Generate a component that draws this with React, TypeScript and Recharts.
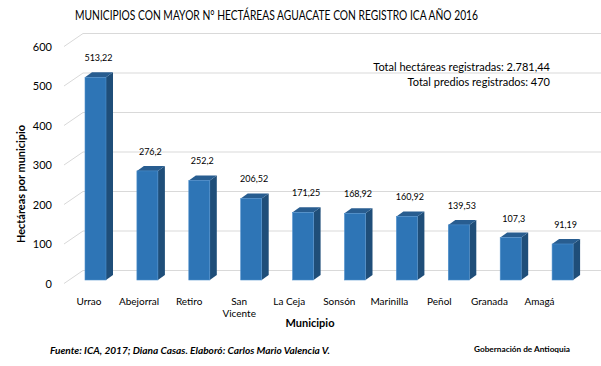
import React from 'react';
import { BarChart, Bar, XAxis, YAxis, CartesianGrid, LabelList } from 'recharts';

const municipios = ['Urrao', 'Abejorral', 'Retiro', 'San Vicente', 'La Ceja', 'Sonsón', 'Marinilla', 'Peñol', 'Granada', 'Amagá'];
const tickLabels = ['Urrao', 'Abejorral', 'Retiro', 'San\nVicente', 'La Ceja', 'Sonsón', 'Marinilla', 'Peñol', 'Granada', 'Amagá'];
const hectareas = [513.22, 276.2, 252.2, 206.52, 171.25, 168.92, 160.92, 139.53, 107.3, 91.19];
const yTicks = [0, 100, 200, 300, 400, 500, 600];

const data = municipios.map((m, i) => ({ municipio: m, label: tickLabels[i], hectareas: hectareas[i] }));

const FONT = 'Lato, "Liberation Sans", sans-serif';
const FRONT = '#2e75b6';
const SIDE = '#1f4e79';
const TOP = '#285d90';
const DX = 7;
const DY = 5;

const fmt = (v: number) => String(v).replace('.', ',');

const Bar3D = (props: any) => {
  const { x, y, width, height } = props;
  if (height == null || isNaN(height)) return null;
  return (
    <g>
      <path d={`M${x + width},${y} L${x + width + DX},${y - DY} L${x + width + DX},${y + height - DY} L${x + width},${y + height} Z`} fill={SIDE} />
      <path d={`M${x},${y} L${x + DX},${y - DY} L${x + width + DX},${y - DY} L${x + width},${y} Z`} fill={TOP} />
      <rect x={x} y={y} width={width} height={height} fill={FRONT} stroke="#4f8fcc" strokeWidth={0.6} />
    </g>
  );
};

const gridLine = (p: any) => {
  const { x1, y1, x2 } = p;
  return (
    <path
      key={p.key ?? `g${p.index}`}
      d={`M${x1 - 6},${y1 + 3.5} L${x1 + 13},${y1 - 9.5} L${x2 + 12},${y1 - 9.5}`}
      stroke="#d9d9d9"
      fill="none"
      strokeWidth={1}
    />
  );
};

const XTick = (p: any) => {
  const { x, payload } = p;
  const i = p.index ?? payload.index ?? 0;
  const lbl = tickLabels[i] ?? String(payload.value);
  const lines = lbl.split('\n');
  const cx = x - (6.95 + 1.84 * i);
  return (
    <text x={cx} y={305} textAnchor="middle" fontFamily={FONT} fontSize={10} fill="#000">
      {lines.map((l, k) => (
        <tspan key={k} x={cx} dy={k === 0 ? 0 : 12}>{l}</tspan>
      ))}
    </text>
  );
};

const YTick = (p: any) => {
  const { y, payload } = p;
  return (
    <text x={52} y={y + 7.5} textAnchor="end" fontFamily={FONT} fontSize={11} fill="#000">
      {payload.value}
    </text>
  );
};

const ValueLabel = (p: any) => {
  const { x, y, width, value } = p;
  return (
    <text x={x + width / 2 + 3} y={y - 16} textAnchor="middle" fontFamily={FONT} fontSize={9} fill="#000">
      {fmt(value)}
    </text>
  );
};

export default function App() {
  return (
    <div style={{ position: 'absolute', left: 0, top: 0, width: 601, height: 366, background: '#fff' }}>
      <BarChart width={601} height={366} data={data} margin={{ top: 43, right: 12, left: 0, bottom: 56 }}>
        <CartesianGrid horizontal={gridLine} vertical={false} />
        <XAxis dataKey="municipio" axisLine={false} tickLine={false} height={30} interval={0} tick={<XTick />} />
        <YAxis type="number" domain={[0, 600]} ticks={yTicks} axisLine={false} tickLine={false} width={70} tick={<YTick />} interval={0} />
        <Bar dataKey="hectareas" barSize={21} isAnimationActive={false} shape={<Bar3D />}>
          <LabelList dataKey="hectareas" content={<ValueLabel />} />
        </Bar>
      </BarChart>
      <svg width={601} height={366} style={{ position: 'absolute', left: 0, top: 0, pointerEvents: 'none' }}>
        <text x={276.5} y={19.5} textAnchor="middle" fontFamily={FONT} fontSize={13} fill="#000" textLength={403} lengthAdjust="spacingAndGlyphs">
          MUNICIPIOS CON MAYOR N° HECTÁREAS AGUACATE CON REGISTRO ICA AÑO 2016
        </text>
        <text x={550} y={71} textAnchor="end" fontFamily={FONT} fontSize={11} fill="#000">
          Total hectáreas registradas: 2.781,44
        </text>
        <text x={550} y={86} textAnchor="end" fontFamily={FONT} fontSize={11} fill="#000">
          Total predios registrados: 470
        </text>
        <text x={0} y={0} transform="translate(25,184) rotate(-90)" textAnchor="middle" fontFamily={FONT} fontSize={11} fontWeight="bold" fill="#000" textLength={118} lengthAdjust="spacingAndGlyphs">
          Hectáreas por municipio
        </text>
        <text x={310} y={326.5} textAnchor="middle" fontFamily={FONT} fontSize={11} fontWeight="bold" fill="#000">
          Municipio
        </text>
        <text x={50} y={354} fontFamily={FONT} fontSize={10} fontWeight="bold" fontStyle="italic" fill="#000" textLength={280} lengthAdjust="spacingAndGlyphs">
          Fuente: ICA, 2017; Diana Casas. Elaboró: Carlos Mario Valencia V.
        </text>
        <text x={474} y={351.5} fontFamily={FONT} fontSize={8} fontWeight="bold" fill="#000" textLength={96} lengthAdjust="spacingAndGlyphs">
          Gobernación de Antioquia
        </text>
      </svg>
    </div>
  );
}
